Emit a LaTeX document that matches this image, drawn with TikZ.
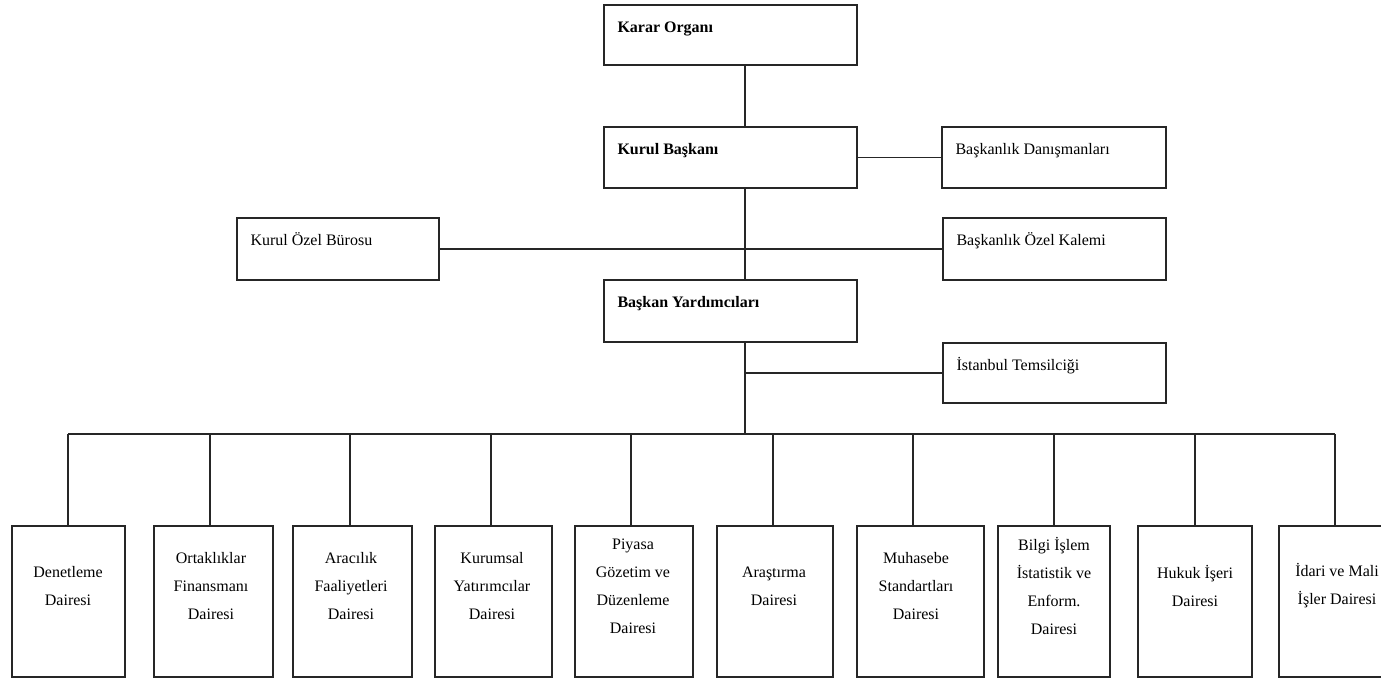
\documentclass[tikz,border=0pt]{standalone}
\usepackage{fontspec}
\setmainfont{Liberation Serif}
\begin{document}
\begin{tikzpicture}[x=1pt,y=-1pt,
  box/.style={draw=black!85,line width=1.4pt,rectangle,inner sep=0pt},
  conn/.style={draw=black!85,line width=1.2pt},
  toptxt/.style={anchor=base west,inner sep=0pt,font=\fontsize{16}{18}\selectfont},
  boldtxt/.style={toptxt,font=\fontsize{16}{18}\selectfont\bfseries},
  bottxt/.style={align=center,inner sep=0pt,font=\fontsize{16}{28}\selectfont}]
\useasboundingbox (0,0) rectangle (1381,678);
% upper boxes
\node[box,minimum width=253pt,minimum height=60pt] (karar) at (730.5,35) {};
\node[box,minimum width=253pt,minimum height=61pt] (kurul) at (730.5,157.5) {};
\node[box,minimum width=224pt,minimum height=61pt] (danis) at (1054,157.5) {};
\node[box,minimum width=202pt,minimum height=62pt] (buro) at (338,249) {};
\node[box,minimum width=223pt,minimum height=62pt] (kalem) at (1054.5,249) {};
\node[box,minimum width=253pt,minimum height=62pt] (yard) at (730.5,311) {};
\node[box,minimum width=223pt,minimum height=60pt] (ist) at (1054.5,373) {};
\node[boldtxt] (tkarar) at ([xshift=14pt,yshift=-28pt]karar.north west) {Karar Organı};
\node[boldtxt] (tkurul) at ([xshift=14pt,yshift=-28pt]kurul.north west) {Kurul Başkanı};
\node[toptxt] (tdanis) at ([xshift=14pt,yshift=-28pt]danis.north west) {Başkanlık Danışmanları};
\node[toptxt] (tburo) at ([xshift=14pt,yshift=-28pt]buro.north west) {Kurul Özel Bürosu};
\node[toptxt] (tkalem) at ([xshift=14pt,yshift=-28pt]kalem.north west) {Başkanlık Özel Kalemi};
\node[boldtxt] (tyard) at ([xshift=14pt,yshift=-28pt]yard.north west) {Başkan Yardımcıları};
\node[toptxt] (tist) at ([xshift=14pt,yshift=-28pt]ist.north west) {İstanbul Temsilciği};
% bottom boxes
\node[box,minimum width=113pt,minimum height=151pt] (b1) at (68.5,601.5) {};
\node[box,minimum width=119pt,minimum height=151pt] (b2) at (213.5,601.5) {};
\node[box,minimum width=119pt,minimum height=151pt] (b3) at (352.5,601.5) {};
\node[box,minimum width=117pt,minimum height=151pt] (b4) at (493.5,601.5) {};
\node[box,minimum width=118pt,minimum height=151pt] (b5) at (634,601.5) {};
\node[box,minimum width=116pt,minimum height=151pt] (b6) at (775,601.5) {};
\node[box,minimum width=127pt,minimum height=151pt] (b7) at (920.5,601.5) {};
\node[box,minimum width=112pt,minimum height=151pt] (b8) at (1054,601.5) {};
\node[box,minimum width=114pt,minimum height=151pt] (b9) at (1195,601.5) {};
\node[box,minimum width=114pt,minimum height=151pt] (b10) at (1336,601.5) {};
\node[bottxt] (t1) at (68,586) {Denetleme\\Dairesi};
\node[bottxt] (t2) at (211,586) {Ortaklıklar\\Finansmanı\\Dairesi};
\node[bottxt] (t3) at (351,586) {Aracılık\\Faaliyetleri\\Dairesi};
\node[bottxt] (t4) at (492,586) {Kurumsal\\Yatırımcılar\\Dairesi};
\node[bottxt] (t5) at (633,586) {Piyasa\\Gözetim ve\\Düzenleme\\Dairesi};
\node[bottxt] (t6) at (774,586) {Araştırma\\Dairesi};
\node[bottxt] (t7) at (916,586) {Muhasebe\\Standartları\\Dairesi};
\node[bottxt] (t8) at (1054,586) {Bilgi İşlem\\İstatistik ve\\Enform.\\Dairesi};
\node[bottxt] (t9) at (1195,586) {Hukuk İşeri\\Dairesi};
\node[bottxt] (t10) at (1337,586) {İdari ve Mali\\İşler Dairesi};
% connectors
\coordinate (sp) at (745,0);
\coordinate (bus) at (0,434);
\draw[conn] (karar.south -| sp) -- (kurul.north -| sp);
\draw[conn] (kurul.south -| sp) -- (yard.north -| sp);
\draw[conn] (kurul.east) -- (danis.west);
\draw[conn] (buro.east) -- (kalem.west);
\draw[conn] (yard.south -| sp) -- (bus -| sp);
\draw[conn] (ist.west) -- (ist.west -| sp);
\coordinate (d1) at (68,434);
\coordinate (d2) at (210,434);
\coordinate (d3) at (350,434);
\coordinate (d4) at (491,434);
\coordinate (d5) at (631,434);
\coordinate (d6) at (773,434);
\coordinate (d7) at (913,434);
\coordinate (d8) at (1054,434);
\coordinate (d9) at (1195,434);
\coordinate (d10) at (1335,434);
\draw[conn] (d1) -- (d10);
\foreach \i in {1,...,10} {\draw[conn] (d\i) -- (d\i |- b\i.north);}
\end{tikzpicture}
\end{document}
